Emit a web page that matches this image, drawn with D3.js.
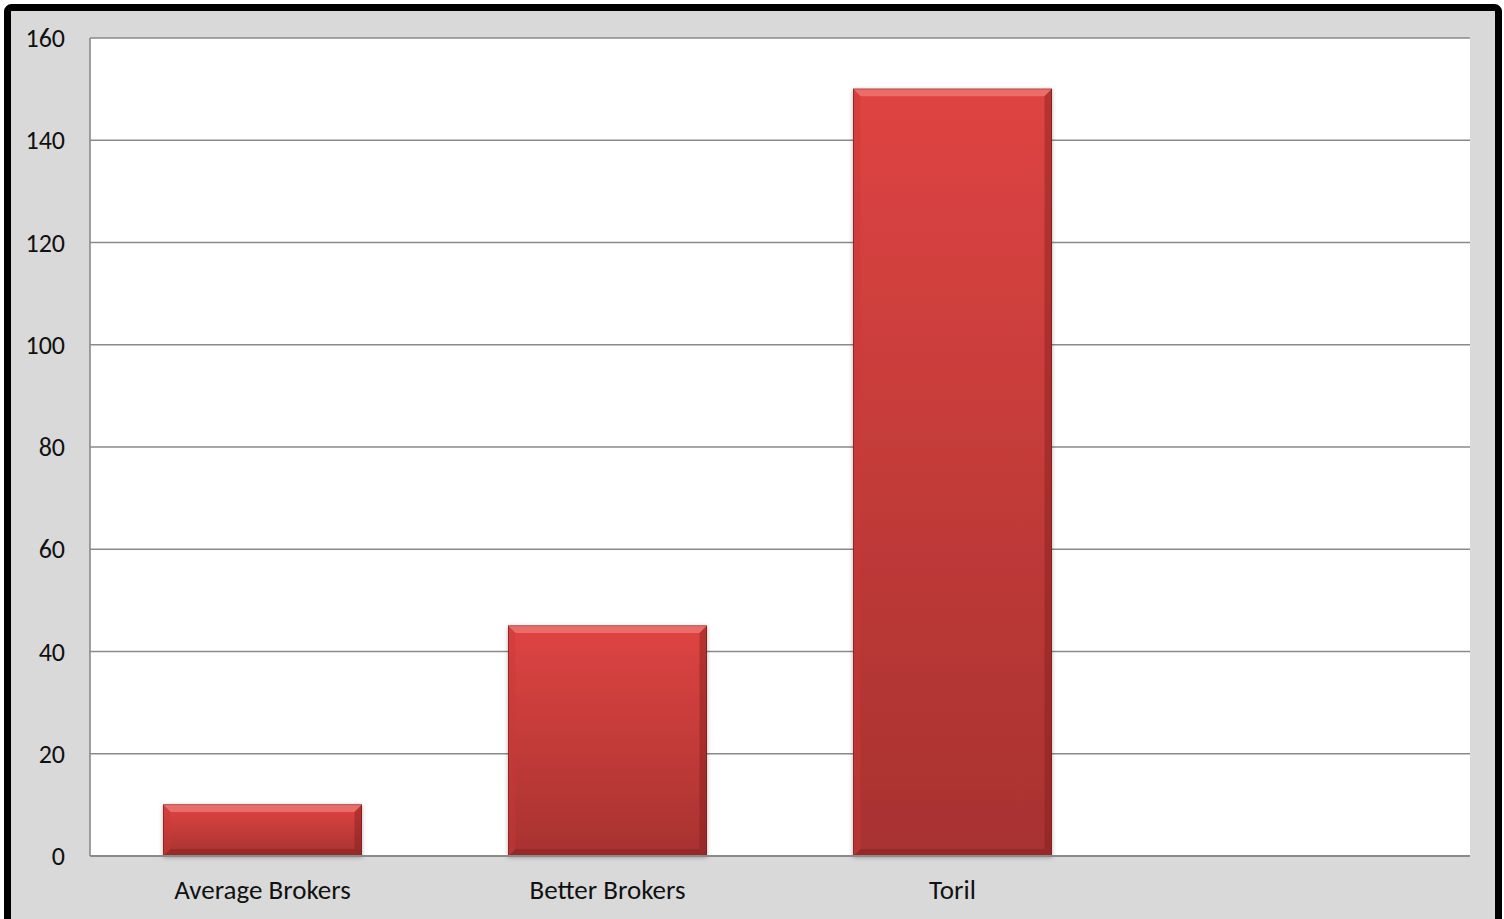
<!DOCTYPE html>
<html>
<head>
<meta charset="utf-8">
<script src="https://cdn.jsdelivr.net/npm/d3@7"></script>
<style>
  body { margin: 0; background: #fff; }
  svg { display: block; }
</style>
</head>
<body>
<div id="chart"></div>
<script>
// datos del grafico
const categories = ["Average Brokers", "Better Brokers", "Toril", ""];
const values = [10, 45, 150, null];
const yTicks = [0, 20, 40, 60, 80, 100, 120, 140, 160];

const W = 1504, H = 919;
const plot = { left: 90, right: 1470, top: 38, bottom: 856 };

const svg = d3.select("#chart").append("svg")
  .attr("width", W).attr("height", H);

// fondo gris y marco negro
svg.append("rect")
  .attr("x", 7.5).attr("y", 7.5)
  .attr("width", 1491).attr("height", H + 20)
  .attr("rx", 4)
  .attr("fill", "#d9d9d9")
  .attr("stroke", "#000").attr("stroke-width", 7);

svg.append("rect")
  .attr("x", plot.left).attr("y", plot.top)
  .attr("width", plot.right - plot.left).attr("height", plot.bottom - plot.top)
  .attr("fill", "#fff");

const x = d3.scaleBand()
  .domain(categories.map((c, i) => i))
  .range([plot.left, plot.right])
  .paddingInner(0.426).paddingOuter(0.213);

const y = d3.scaleLinear().domain([0, 160]).range([plot.bottom, plot.top]);

// lineas de la cuadricula
svg.append("g")
  .selectAll("line")
  .data(yTicks)
  .join("line")
  .attr("x1", plot.left).attr("x2", plot.right)
  .attr("y1", d => y(d)).attr("y2", d => y(d))
  .attr("stroke", "#8a8a8a").attr("stroke-width", 1.6);

// eje izquierdo
svg.append("line")
  .attr("x1", plot.left).attr("x2", plot.left)
  .attr("y1", plot.top).attr("y2", plot.bottom)
  .attr("stroke", "#8a8a8a").attr("stroke-width", 1.6);

svg.append("g")
  .selectAll("text")
  .data(yTicks)
  .join("text")
  .attr("x", 65).attr("y", d => y(d))
  .attr("dy", "0.35em")
  .attr("text-anchor", "end")
  .attr("font-family", "Carlito, 'Open Sans', sans-serif")
  .attr("font-size", 26)
  .attr("fill", "#111")
  .text(d => d);

// degradados de las barras
const defs = svg.append("defs");
const grad = defs.append("linearGradient")
  .attr("id", "barGrad").attr("x1", 0).attr("y1", 0).attr("x2", 0).attr("y2", 1);
grad.append("stop").attr("offset", "0%").attr("stop-color", "#de4442");
grad.append("stop").attr("offset", "100%").attr("stop-color", "#a83230");

const shadow = defs.append("filter").attr("id", "shadow")
  .attr("x", "-10%").attr("y", "-10%").attr("width", "120%").attr("height", "120%");
shadow.append("feDropShadow")
  .attr("dx", 0).attr("dy", 1).attr("stdDeviation", 2)
  .attr("flood-color", "#000").attr("flood-opacity", 0.3);

const bars = categories.map((c, i) => ({ i, v: values[i] })).filter(d => d.v != null);
const bev = 7;

const g = svg.append("g").selectAll("g").data(bars).join("g");

g.append("rect")
  .attr("x", d => x(d.i)).attr("y", d => y(d.v))
  .attr("width", x.bandwidth()).attr("height", d => y(0) - y(d.v))
  .attr("fill", "url(#barGrad)")
  .attr("stroke", "#8a2020").attr("stroke-width", 1)
  .attr("filter", "url(#shadow)");

// bisel superior
g.append("polygon")
  .attr("points", d => {
    const x0 = x(d.i), x1 = x0 + x.bandwidth(), y0 = y(d.v);
    return [[x0, y0], [x1, y0], [x1 - bev, y0 + bev], [x0 + bev, y0 + bev]].join(" ");
  })
  .attr("fill", "#f07a76").attr("opacity", 0.75);

// bisel izquierdo
g.append("polygon")
  .attr("points", d => {
    const x0 = x(d.i), y0 = y(d.v), y1 = y(0);
    return [[x0, y0], [x0 + bev, y0 + bev], [x0 + bev, y1 - bev], [x0, y1]].join(" ");
  })
  .attr("fill", "#c83a38").attr("opacity", 0.4);

// bisel derecho
g.append("polygon")
  .attr("points", d => {
    const x1 = x(d.i) + x.bandwidth(), y0 = y(d.v), y1 = y(0);
    return [[x1, y0], [x1 - bev, y0 + bev], [x1 - bev, y1 - bev], [x1, y1]].join(" ");
  })
  .attr("fill", "#7a1c1a").attr("opacity", 0.4);

// bisel inferior
g.append("polygon")
  .attr("points", d => {
    const x0 = x(d.i), x1 = x0 + x.bandwidth(), y1 = y(0);
    return [[x0, y1], [x1, y1], [x1 - bev, y1 - bev], [x0 + bev, y1 - bev]].join(" ");
  })
  .attr("fill", "#7a1c1a").attr("opacity", 0.4);

// eje inferior
svg.append("line")
  .attr("x1", plot.left).attr("x2", plot.right)
  .attr("y1", plot.bottom).attr("y2", plot.bottom)
  .attr("stroke", "#8a8a8a").attr("stroke-width", 2);

svg.append("g")
  .selectAll("text")
  .data(categories)
  .join("text")
  .attr("x", (d, i) => x(i) + x.bandwidth() / 2)
  .attr("y", 890)
  .attr("dy", "0.35em")
  .attr("text-anchor", "middle")
  .attr("font-family", "Carlito, 'Open Sans', sans-serif")
  .attr("font-size", 27)
  .attr("fill", "#111")
  .text(d => d);
</script>
</body>
</html>
